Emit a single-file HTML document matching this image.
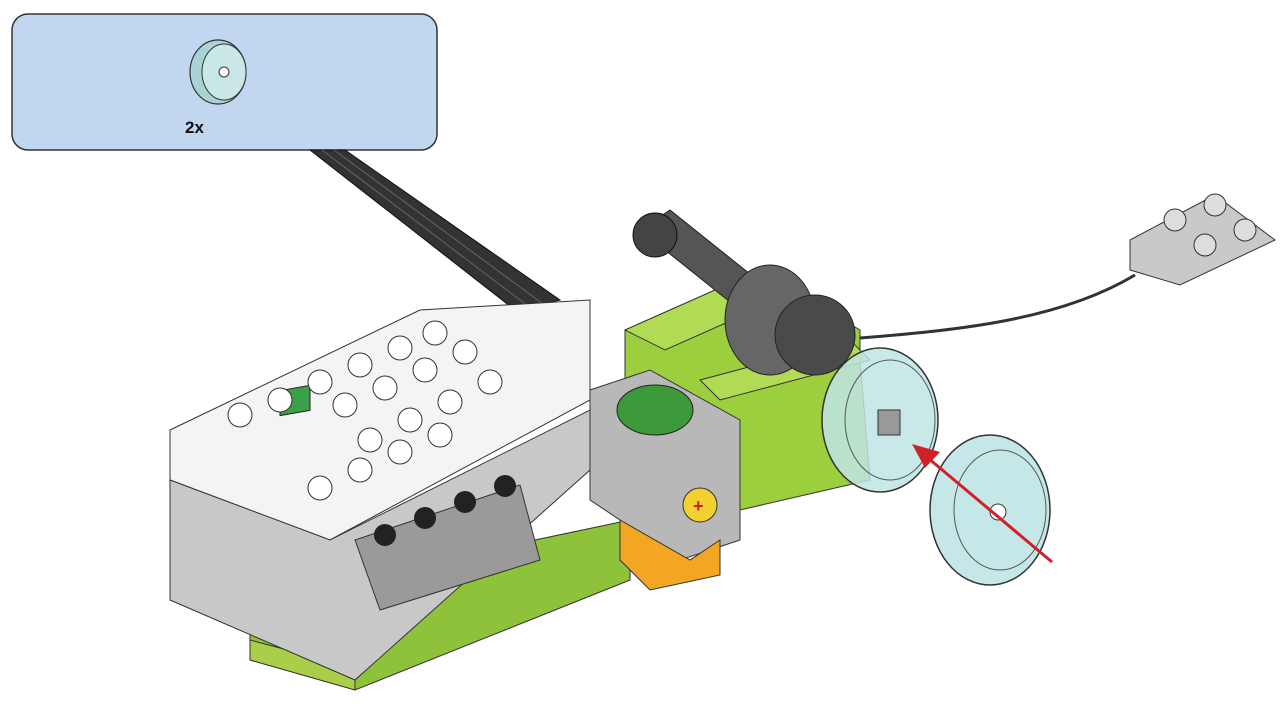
<!DOCTYPE html>
<html><head><meta charset="utf-8"><style>
html,body{margin:0;padding:0;background:#fff;}
svg{display:block}
text{font-family:"Liberation Sans",sans-serif;}
</style></head><body>
<svg width="1287" height="712" viewBox="0 0 1287 712">
<g>
<rect x="12" y="14" width="425" height="136" rx="16" fill="#c1d7ef" stroke="#333" stroke-width="1.5"/>
<g>
<ellipse cx="218" cy="72" rx="28" ry="32" fill="#a9d3d4" stroke="#333" stroke-width="1.2"/>
<ellipse cx="224" cy="72" rx="22" ry="28" fill="#c9e7e7" stroke="#333" stroke-width="1"/>
<circle cx="224" cy="72" r="5" fill="#fff" stroke="#333"/>
</g>
<text x="185" y="133" font-size="17" font-weight="bold" fill="#111">2x</text>
</g>
<g>
<polygon points="310,150 345,150 560,300 515,310" fill="#333" stroke="#111"/>
<line x1="322" y1="150" x2="528" y2="306" stroke="#666" stroke-width="1"/>
<line x1="334" y1="150" x2="543" y2="304" stroke="#666" stroke-width="1"/>
</g>
<g>
<polygon points="250,600 250,660 355,690 630,580 630,520" fill="#8fc23b" stroke="#333"/>
<polygon points="250,640 355,668 355,690 250,660" fill="#a9cf4a" stroke="#333"/>
</g>
<g>
<polygon points="625,330 760,270 860,330 860,360 870,480 740,510 625,470" fill="#9ccf3d" stroke="#333"/>
<polygon points="625,330 760,270 800,290 665,350" fill="#b2db55" stroke="#333"/>
<polygon points="700,380 850,340 870,360 720,400" fill="#b2db55" stroke="#333"/>
</g>
<g>
<polygon points="640,230 670,210 770,290 740,310" fill="#555" stroke="#222"/>
<circle cx="655" cy="235" r="22" fill="#444" stroke="#111"/>
</g>
<g>
<ellipse cx="770" cy="320" rx="45" ry="55" fill="#666" stroke="#222"/>
<ellipse cx="815" cy="335" rx="40" ry="40" fill="#4a4a4a" stroke="#222"/>
</g>
<g>
<polygon points="170,430 420,310 590,300 590,400 330,540 170,480" fill="#f4f4f4" stroke="#333"/>
<polygon points="170,480 330,540 590,410 590,470 355,680 170,600" fill="#c8c8c8" stroke="#333"/>
<polygon points="355,540 520,485 540,560 380,610" fill="#9a9a9a" stroke="#333"/>
<rect x="280" y="440" width="30" height="25" fill="#3aa04a" stroke="#222" transform="skewY(-10)"/>
</g>
<g>
<circle cx="240" cy="415" r="12" fill="#fff" stroke="#333"/><circle cx="280" cy="400" r="12" fill="#fff" stroke="#333"/>
<circle cx="320" cy="382" r="12" fill="#fff" stroke="#333"/><circle cx="360" cy="365" r="12" fill="#fff" stroke="#333"/>
<circle cx="400" cy="348" r="12" fill="#fff" stroke="#333"/><circle cx="435" cy="333" r="12" fill="#fff" stroke="#333"/>
<circle cx="345" cy="405" r="12" fill="#fff" stroke="#333"/><circle cx="385" cy="388" r="12" fill="#fff" stroke="#333"/>
<circle cx="425" cy="370" r="12" fill="#fff" stroke="#333"/><circle cx="465" cy="352" r="12" fill="#fff" stroke="#333"/>
<circle cx="370" cy="440" r="12" fill="#fff" stroke="#333"/><circle cx="410" cy="420" r="12" fill="#fff" stroke="#333"/>
<circle cx="450" cy="402" r="12" fill="#fff" stroke="#333"/><circle cx="490" cy="382" r="12" fill="#fff" stroke="#333"/>
<circle cx="320" cy="488" r="12" fill="#fff" stroke="#333"/><circle cx="360" cy="470" r="12" fill="#fff" stroke="#333"/>
<circle cx="400" cy="452" r="12" fill="#fff" stroke="#333"/><circle cx="440" cy="435" r="12" fill="#fff" stroke="#333"/>
<circle cx="385" cy="535" r="11" fill="#222"/><circle cx="425" cy="518" r="11" fill="#222"/>
<circle cx="465" cy="502" r="11" fill="#222"/><circle cx="505" cy="486" r="11" fill="#222"/>
</g>
<g>
<polygon points="590,390 650,370 740,420 740,540 680,560 590,500" fill="#b8b8b8" stroke="#333"/>
<polygon points="620,520 690,560 720,540 720,575 650,590 620,560" fill="#f2a623" stroke="#333"/>
<ellipse cx="655" cy="410" rx="38" ry="25" fill="#3d9a3a" stroke="#222"/>
<circle cx="700" cy="505" r="17" fill="#f3d130" stroke="#333"/>
<text x="693" y="512" font-size="18" fill="#c22" font-weight="bold">+</text>
</g>
<g>
<ellipse cx="880" cy="420" rx="58" ry="72" fill="#bfe4e4" fill-opacity="0.85" stroke="#333" stroke-width="1.5"/>
<ellipse cx="890" cy="420" rx="45" ry="60" fill="none" stroke="#555"/>
<rect x="878" y="410" width="22" height="25" fill="#999" stroke="#333"/>
</g>
<g>
<ellipse cx="990" cy="510" rx="60" ry="75" fill="#bfe4e4" fill-opacity="0.9" stroke="#333" stroke-width="1.5"/>
<ellipse cx="1000" cy="510" rx="46" ry="60" fill="none" stroke="#555"/>
<circle cx="998" cy="512" r="8" fill="#fff" stroke="#333"/>
</g>
<g>
<line x1="1052" y1="562" x2="928" y2="458" stroke="#d0202a" stroke-width="3"/>
<polygon points="912,444 940,452 925,468" fill="#d0202a"/>
</g>
<g>
<path d="M860,338 C960,330 1060,320 1135,275" fill="none" stroke="#333" stroke-width="3"/>
<polygon points="1130,240 1215,195 1275,240 1180,285 1130,270" fill="#c9c9c9" stroke="#333"/>
<circle cx="1175" cy="220" r="11" fill="#ddd" stroke="#333"/><circle cx="1215" cy="205" r="11" fill="#ddd" stroke="#333"/>
<circle cx="1205" cy="245" r="11" fill="#ddd" stroke="#333"/><circle cx="1245" cy="230" r="11" fill="#ddd" stroke="#333"/>
</g>
</svg>
</body></html>
